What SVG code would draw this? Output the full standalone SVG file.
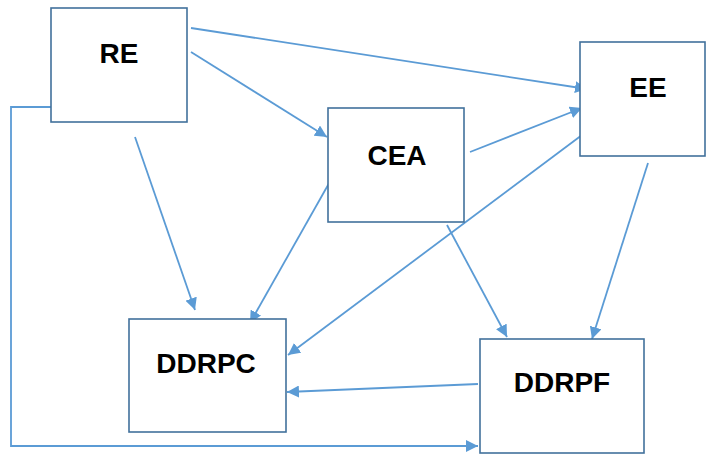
<svg xmlns="http://www.w3.org/2000/svg" width="708" height="457" viewBox="0 0 708 457">
<defs>
<style>
.box{fill:#fff;stroke:#41719C;stroke-width:1.6}
.lbl{font-family:"Liberation Sans",Arial,sans-serif;font-weight:bold;font-size:28px;fill:#000;text-anchor:middle}
.con{fill:none;stroke:#5B9BD5;stroke-width:1.8}
</style>
<marker id="arr" viewBox="0 0 12 12" refX="12" refY="6" markerWidth="12" markerHeight="12" markerUnits="userSpaceOnUse" orient="auto">
<path d="M0,0 L12,6 L0,12 Z" fill="#5B9BD5"/>
</marker>
</defs>
<rect width="708" height="457" fill="#fff"/>
<g id="connectors">
<line class="con" x1="191" y1="28" x2="587" y2="89" marker-end="url(#arr)"/>
<line class="con" x1="191" y1="52" x2="327" y2="137" marker-end="url(#arr)"/>
<line class="con" x1="135" y1="137" x2="195" y2="310" marker-end="url(#arr)"/>
<polyline class="con" points="51,107 11,107 11,446 478,446" marker-end="url(#arr)"/>
<line class="con" x1="470" y1="152" x2="582" y2="108" marker-end="url(#arr)"/>
<line class="con" x1="332" y1="178" x2="250" y2="323" marker-end="url(#arr)"/>
<line class="con" x1="582" y1="135" x2="288" y2="355" marker-end="url(#arr)"/>
<line class="con" x1="447" y1="225" x2="507" y2="337" marker-end="url(#arr)"/>
<line class="con" x1="648" y1="163" x2="592" y2="339" marker-end="url(#arr)"/>
<line class="con" x1="478" y1="384" x2="287" y2="392" marker-end="url(#arr)"/>
</g>
<g id="RE"><rect class="box" x="51" y="8" width="136" height="114"/><text class="lbl" x="119" y="63">RE</text></g>
<g id="CEA"><rect class="box" x="328" y="108" width="136" height="114"/><text class="lbl" x="397" y="165">CEA</text></g>
<g id="EE"><rect class="box" x="580" y="42" width="125" height="114"/><text class="lbl" x="648" y="97">EE</text></g>
<g id="DDRPC"><rect class="box" x="129" y="319" width="157" height="113"/><text class="lbl" x="206" y="373">DDRPC</text></g>
<g id="DDRPF"><rect class="box" x="480" y="339" width="164" height="114"/><text class="lbl" x="562" y="392">DDRPF</text></g>
</svg>
